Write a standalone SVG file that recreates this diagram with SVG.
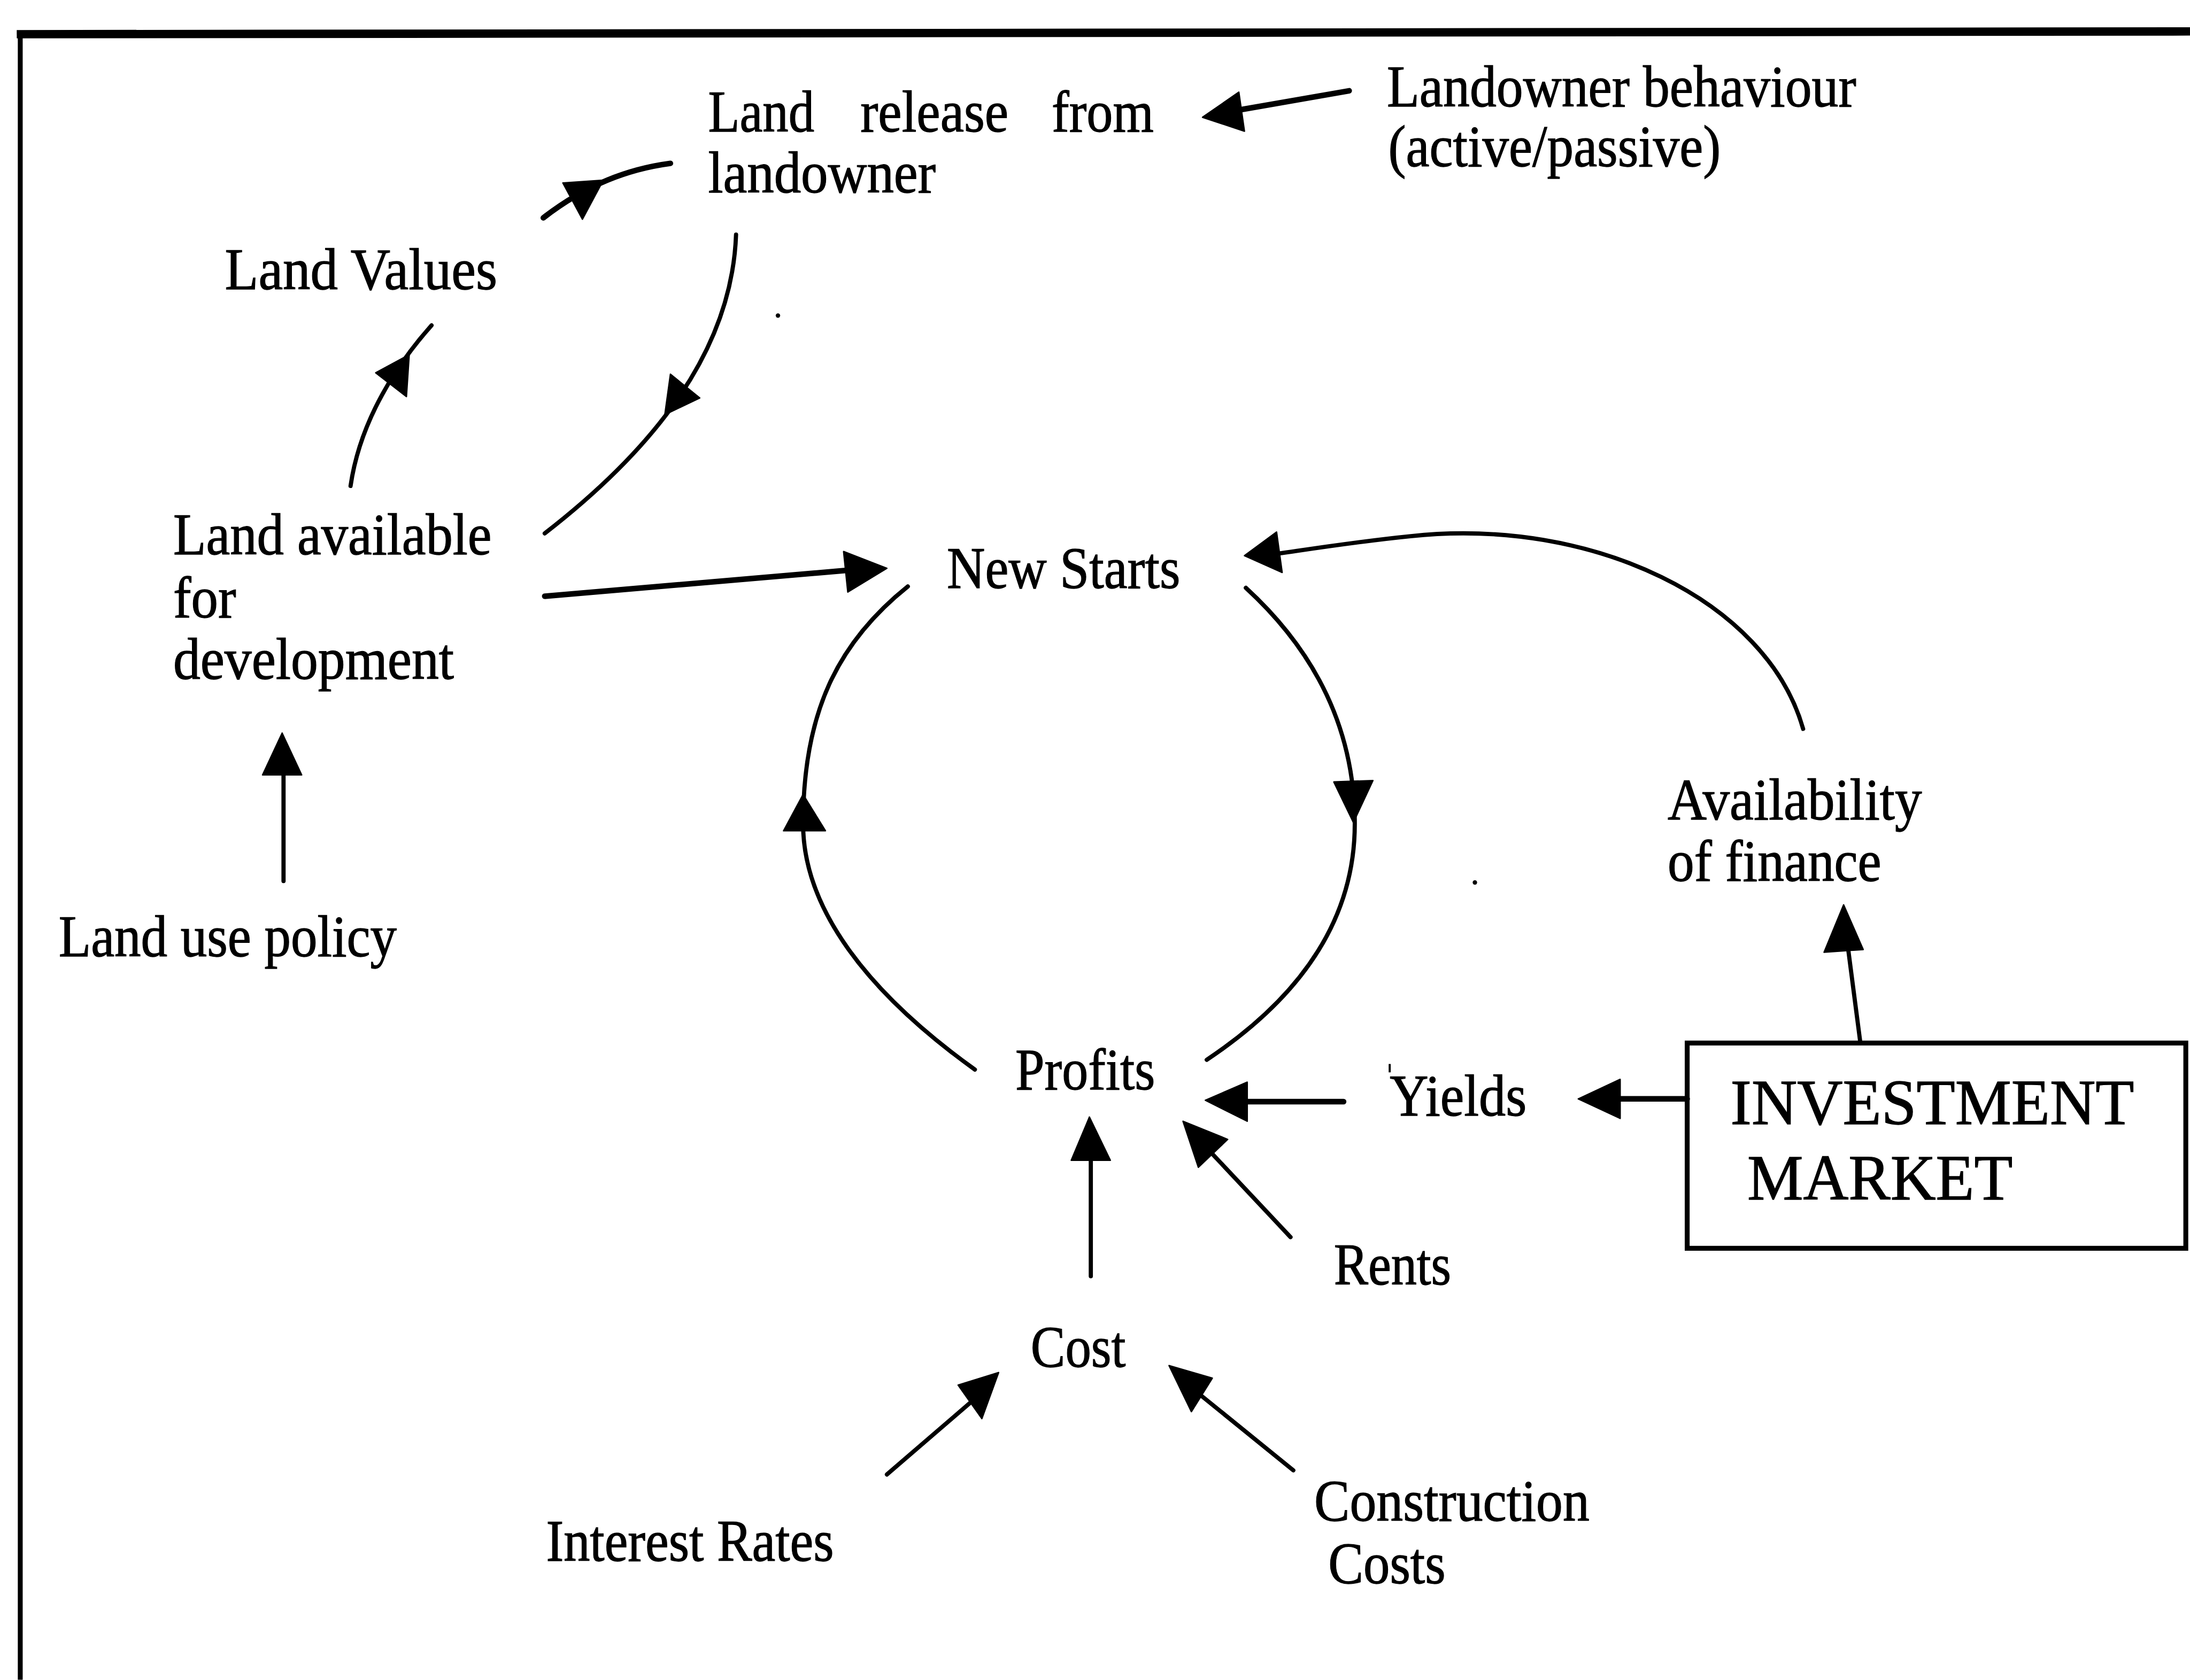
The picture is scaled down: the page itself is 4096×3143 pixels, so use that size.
<svg xmlns="http://www.w3.org/2000/svg" width="4096" height="3143" viewBox="0 0 4096 3143">
  <style>
    .t { font-family: "Liberation Serif", "Times New Roman", serif; font-size: 42px; fill: #000; stroke: #000; stroke-width: 0.5px; }
    .big { font-size: 46px; }
    .ln { fill: none; stroke: #000; stroke-width: 3; stroke-linecap: round; }
    .thk { stroke-width: 4; }
    .hd { fill: #000; stroke: #000; stroke-width: 1; stroke-linejoin: round; }
  </style>
  <rect width="4096" height="3143" fill="#fff"/>
  <!-- drawing is laid out on a 1568-unit grid and scaled up -->
  <g transform="scale(2.612245)">
    <g id="frame">
      <path d="M12,24.5 L1568,22.5" fill="none" stroke="#000" stroke-width="6"/>
      <path d="M14.5,22 L14.5,1203" fill="none" stroke="#000" stroke-width="3.5"/>
    </g>

    <g id="connectors">
      <!-- landowner behaviour -> land release -->
      <path class="ln thk" d="M966,65 L880,80"/>
      <polygon class="hd" points="861,84 887,66 891,94"/>
      <!-- land release -> land values -->
      <path class="ln thk" d="M480,117 C450,121 420,132 389,156"/>
      <polygon class="hd" points="403,131 432,129 417,157"/>
      <!-- land release -> land available -->
      <path class="ln" d="M527,168 C524,250 470,320 390,382"/>
      <polygon class="hd" points="480,268 501,285 476,297"/>
      <!-- land available -> land values -->
      <path class="ln" d="M251,348 C258,300 285,260 309,233"/>
      <polygon class="hd" points="269,267 293,254 291,284"/>
      <!-- land available -> new starts -->
      <path class="ln thk" d="M390,427 L612,408"/>
      <polygon class="hd" points="604,395 635,407 607,424"/>
      <!-- profits -> new starts (left arc) -->
      <path class="ln" d="M698,766 C620,710 575,650 575,590 C575,510 600,460 650,420"/>
      <polygon class="hd" points="575,569 561,595 591,595"/>
      <!-- new starts -> profits (right arc) -->
      <path class="ln" d="M892,421 C940,465 970,520 970,590 C970,660 930,715 864,759"/>
      <polygon class="hd" points="955,560 983,559 969,589"/>
      <!-- availability of finance -> new starts -->
      <path class="ln" d="M1291,522 C1265,430 1140,370 1010,384 C970,388 940,393 905,398"/>
      <polygon class="hd" points="891,398 914,381 918,410"/>
      <!-- land use policy -> land available -->
      <path class="ln" d="M203,631 L203,550"/>
      <polygon class="hd" points="202,525 188,555 216,555"/>
      <!-- investment market -> availability of finance -->
      <path class="ln" d="M1332,747 L1322,670"/>
      <polygon class="hd" points="1320,648 1306,682 1334,680"/>
      <!-- investment market -> yields -->
      <path class="ln thk" d="M1208,787 L1150,787"/>
      <polygon class="hd" points="1130,787 1160,773 1160,801"/>
      <!-- yields -> profits -->
      <path class="ln thk" d="M962,789 L885,789"/>
      <polygon class="hd" points="863,788 893,775 893,803"/>
      <!-- rents -> profits -->
      <path class="ln" d="M924,886 L862,820"/>
      <polygon class="hd" points="847,803 879,816 858,836"/>
      <!-- cost -> profits -->
      <path class="ln" d="M781,914 L781,825"/>
      <polygon class="hd" points="780,800 767,831 795,831"/>
      <!-- interest rates -> cost -->
      <path class="ln" d="M635,1056 L700,1000"/>
      <polygon class="hd" points="715,983 686,992 703,1016"/>
      <!-- construction costs -> cost -->
      <path class="ln" d="M926,1053 L852,993"/>
      <polygon class="hd" points="837,978 868,987 853,1011"/>
    </g>

    <g id="land-release">
      <text class="t" y="94"><tspan x="507" textLength="76" lengthAdjust="spacingAndGlyphs">Land</tspan><tspan x="616" textLength="106" lengthAdjust="spacingAndGlyphs">release</tspan><tspan x="753" textLength="73" lengthAdjust="spacingAndGlyphs">from</tspan></text>
      <text class="t" x="507" y="138" textLength="163" lengthAdjust="spacingAndGlyphs">landowner</text>
    </g>
    <g id="landowner-behaviour">
      <text class="t" x="993" y="76" textLength="336" lengthAdjust="spacingAndGlyphs">Landowner behaviour</text>
      <text class="t" x="994" y="119" textLength="238" lengthAdjust="spacingAndGlyphs">(active/passive)</text>
    </g>
    <g id="land-values">
      <text class="t" x="161" y="207" textLength="195" lengthAdjust="spacingAndGlyphs">Land Values</text>
    </g>
    <g id="land-available">
      <text class="t" x="124" y="397" textLength="228" lengthAdjust="spacingAndGlyphs">Land available</text>
      <text class="t" x="124" y="442" textLength="45" lengthAdjust="spacingAndGlyphs">for</text>
      <text class="t" x="124" y="486" textLength="201" lengthAdjust="spacingAndGlyphs">development</text>
    </g>
    <g id="new-starts">
      <text class="t" x="678" y="421" textLength="167" lengthAdjust="spacingAndGlyphs">New Starts</text>
    </g>
    <g id="land-use-policy">
      <text class="t" x="42" y="685" textLength="242" lengthAdjust="spacingAndGlyphs">Land use policy</text>
    </g>
    <g id="availability-of-finance">
      <text class="t" x="1194" y="587" textLength="182" lengthAdjust="spacingAndGlyphs">Availability</text>
      <text class="t" x="1194" y="631" textLength="153" lengthAdjust="spacingAndGlyphs">of finance</text>
    </g>
    <g id="profits">
      <text class="t" x="727" y="780" textLength="100" lengthAdjust="spacingAndGlyphs">Profits</text>
    </g>
    <g id="yields">
      <text class="t" x="995" y="799" textLength="98" lengthAdjust="spacingAndGlyphs">Yields</text>
    </g>
    <g id="investment-market">
      <rect x="1208" y="747" width="357" height="147" fill="none" stroke="#000" stroke-width="3.5"/>
      <text class="t big" x="1239" y="805" textLength="289" lengthAdjust="spacingAndGlyphs">INVESTMENT</text>
      <text class="t big" x="1251" y="859" textLength="190" lengthAdjust="spacingAndGlyphs">MARKET</text>
    </g>
    <g id="rents">
      <text class="t" x="955" y="920" textLength="84" lengthAdjust="spacingAndGlyphs">Rents</text>
    </g>
    <g id="cost">
      <text class="t" x="738" y="979" textLength="68" lengthAdjust="spacingAndGlyphs">Cost</text>
    </g>
    <g id="interest-rates">
      <text class="t" x="391" y="1118" textLength="206" lengthAdjust="spacingAndGlyphs">Interest Rates</text>
    </g>
    <g id="construction-costs">
      <text class="t" x="941" y="1089" textLength="197" lengthAdjust="spacingAndGlyphs">Construction</text>
      <text class="t" x="951" y="1134" textLength="84" lengthAdjust="spacingAndGlyphs">Costs</text>
    </g>

    <g id="specks">
      <circle cx="557" cy="226" r="1.6"/>
      <circle cx="1056" cy="632" r="1.6"/>
      <path d="M995,762 L995,768" stroke="#000" stroke-width="1.5"/>
    </g>
  </g>
</svg>
